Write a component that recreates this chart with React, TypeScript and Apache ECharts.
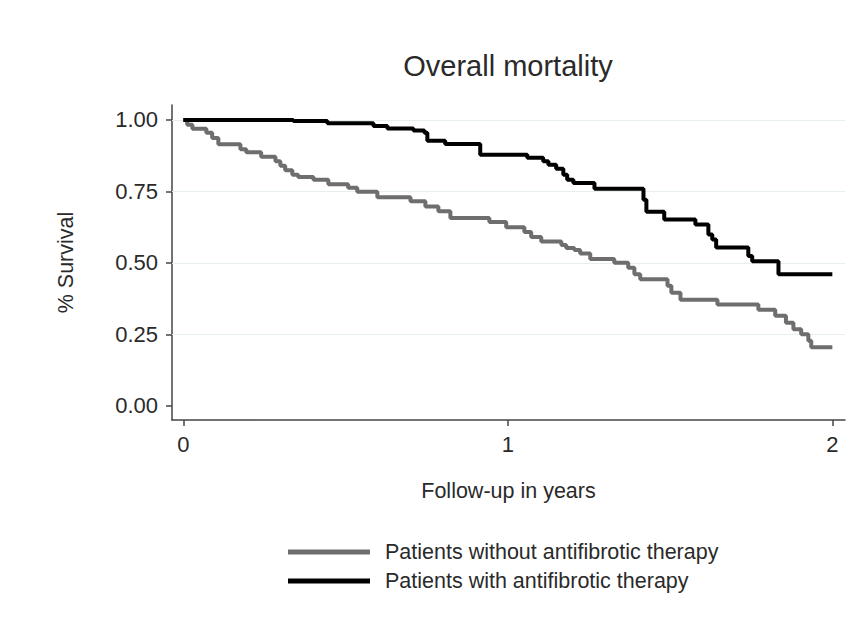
import React, { useEffect, useRef } from "react";
import * as echarts from "echarts";

const titleText = "Overall mortality";
const xAxisTitle = "Follow-up in years";
const yAxisTitle = "% Survival";
const xTicks = [0, 1, 2];
const yTicks = [0, 0.25, 0.5, 0.75, 1];
const gridValues = [0.25, 0.5, 0.75, 1];

const seriesNames = [
  "Patients without antifibrotic therapy",
  "Patients with antifibrotic therapy",
];

// Kaplan-Meier steps: [years, survival]
const withoutTherapy: [number, number][] = [
  [0, 1.0], [0.012, 0.983], [0.028, 0.969], [0.071, 0.955], [0.089, 0.937],
  [0.108, 0.915], [0.176, 0.897], [0.194, 0.887], [0.24, 0.871], [0.284, 0.855],
  [0.299, 0.84], [0.314, 0.824], [0.336, 0.808], [0.354, 0.8], [0.401, 0.791],
  [0.447, 0.775], [0.508, 0.763], [0.536, 0.749], [0.598, 0.73], [0.7, 0.716],
  [0.746, 0.697], [0.786, 0.681], [0.823, 0.657], [0.943, 0.643], [0.995, 0.625],
  [1.051, 0.608], [1.072, 0.591], [1.103, 0.575], [1.165, 0.563], [1.18, 0.552],
  [1.205, 0.545], [1.223, 0.533], [1.254, 0.514], [1.328, 0.501], [1.371, 0.483],
  [1.39, 0.46], [1.408, 0.443], [1.492, 0.42], [1.504, 0.396], [1.532, 0.371],
  [1.646, 0.355], [1.772, 0.336], [1.824, 0.315], [1.857, 0.291], [1.88, 0.268],
  [1.904, 0.251], [1.926, 0.228], [1.935, 0.205], [2.0, 0.205],
];

const withTherapy: [number, number][] = [
  [0, 1.0], [0.339, 0.9965], [0.444, 0.9885], [0.586, 0.979], [0.629, 0.97],
  [0.709, 0.963], [0.743, 0.955], [0.752, 0.927], [0.807, 0.916], [0.915, 0.878],
  [1.06, 0.868], [1.109, 0.855], [1.125, 0.843], [1.149, 0.829], [1.171, 0.808],
  [1.183, 0.791], [1.202, 0.779], [1.267, 0.759], [1.418, 0.721], [1.427, 0.679],
  [1.482, 0.652], [1.578, 0.634], [1.618, 0.599], [1.63, 0.582], [1.642, 0.554],
  [1.741, 0.524], [1.753, 0.506], [1.834, 0.46], [2.0, 0.46],
];

const FONT = "'Liberation Sans', Arial, sans-serif";
const TXT = "#2a2a2a";

export default function App() {
  const ref = useRef<HTMLDivElement>(null);

  useEffect(() => {
    if (!ref.current) return;
    const chart = echarts.init(ref.current, undefined, { renderer: "svg" });
    chart.setOption({
      animation: false,
      backgroundColor: "#ffffff",
      textStyle: { fontFamily: FONT },
      title: {
        text: titleText,
        left: 508,
        top: 51,
        padding: 0,
        textAlign: "center",
        textStyle: { fontFamily: FONT, fontSize: 29, fontWeight: "normal", color: TXT },
      },
      grid: { left: 172, right: 16, top: 105, bottom: 210, containLabel: false },
      xAxis: {
        type: "value",
        min: -0.0348,
        max: 2.039,
        name: xAxisTitle,
        nameLocation: "middle",
        nameGap: 60,
        nameTextStyle: { fontFamily: FONT, fontSize: 21.5, color: TXT },
        axisLine: { show: true, onZero: false, lineStyle: { color: "#444", width: 1.5 } },
        axisTick: { show: true, length: 6, customValues: xTicks, lineStyle: { color: "#444", width: 1.5 } },
        axisLabel: { customValues: xTicks, fontSize: 22, color: TXT, margin: 13, fontFamily: FONT },
        splitLine: { show: false },
      },
      yAxis: {
        type: "value",
        min: -0.049,
        max: 1.052,
        name: yAxisTitle,
        nameLocation: "middle",
        nameGap: 95,
        nameRotate: 90,
        nameTextStyle: { fontFamily: FONT, fontSize: 21.5, color: TXT },
        axisLine: { show: true, onZero: false, lineStyle: { color: "#444", width: 1.5 } },
        axisTick: { show: true, length: 6, customValues: yTicks, lineStyle: { color: "#444", width: 1.5 } },
        axisLabel: {
          customValues: yTicks,
          fontSize: 22,
          color: TXT,
          margin: 14,
          fontFamily: FONT,
          formatter: (v: number) => v.toFixed(2),
        },
        splitLine: { show: false },
      },
      legend: {
        orient: "vertical",
        left: 288,
        top: 541,
        padding: 0,
        icon: "rect",
        itemWidth: 82,
        itemHeight: 5,
        itemGap: 7,
        data: seriesNames,
        textStyle: { fontFamily: FONT, fontSize: 21.5, color: TXT, padding: [0, 0, 0, 10] },
      },
      series: [
        {
          name: seriesNames[0],
          type: "line",
          step: "end",
          data: withoutTherapy,
          showSymbol: false,
          symbol: "none",
          color: "#6e6e6e",
          lineStyle: { color: "#6e6e6e", width: 4 },
          z: 3,
          markLine: {
            silent: true,
            symbol: "none",
            label: { show: false },
            lineStyle: { color: "#e6eeef", width: 1, type: "solid" },
            data: gridValues.map((v) => ({ yAxis: v })),
            z: 1,
          },
        },
        {
          name: seriesNames[1],
          type: "line",
          step: "end",
          data: withTherapy,
          showSymbol: false,
          symbol: "none",
          color: "#000000",
          lineStyle: { color: "#000000", width: 4 },
          z: 4,
        },
      ],
    });
    return () => chart.dispose();
  }, []);

  return (
    <div
      ref={ref}
      style={{ position: "fixed", left: 0, top: 0, width: 861, height: 630 }}
    />
  );
}
